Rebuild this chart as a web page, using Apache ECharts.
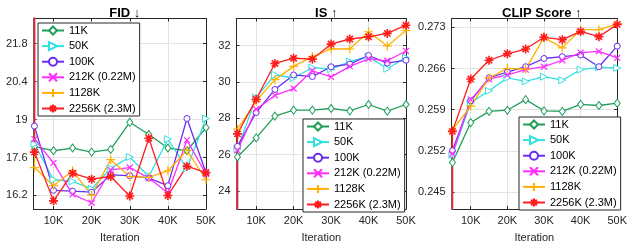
<!DOCTYPE html>
<html lang="en">
<head>
<meta charset="UTF-8">
<title>FID / IS / CLIP vs iteration</title>
<script src="https://cdn.jsdelivr.net/npm/echarts@6/dist/echarts.min.js"></script>
<style>
  html, body { margin: 0; padding: 0; background: #fff; }
</style>
</head>
<body>
<div id="main" style="width:630px;height:248px;"></div>
<script type="text/javascript">
// iterations (first entry = off-scale starting value drawn at 5K)
var iters = [5000, 5000, 10000, 15000, 20000, 25000, 30000, 35000, 40000, 45000, 50000];
var names = ['11K', '50K', '100K', '212K (0.22M)', '1128K', '2256K (2.3M)'];

// FID
var fid11 = [60, 18.0, 17.85, 17.95, 17.8, 17.9, 18.9, 18.45, 17.95, 17.85, 18.7];
var fid50 = [60, 18.1, 16.78, 16.72, 16.44, 17.2, 17.62, 16.9, 18.28, 17.2, 19.04];
var fid100 = [60, 18.76, 16.39, 16.36, 16.32, 16.96, 16.93, 16.84, 16.56, 19.04, 17.04];
var fid212 = [60, 18.28, 17.4, 16.24, 15.93, 17.14, 17.23, 16.84, 16.29, 18.24, 16.99];
var fid1128 = [60, 17.23, 16.56, 17.11, 16.21, 17.52, 16.9, 16.87, 17.11, 17.86, 16.78];
var fid2256 = [60, 17.8, 16.0, 17.02, 16.8, 16.9, 16.18, 18.31, 16.2, 17.28, 17.04];

// IS
var is11 = [15, 25.87, 26.92, 28.12, 28.45, 28.45, 28.54, 28.41, 28.76, 28.39, 28.76];
var is50 = [15, 26.3, 29.14, 30.4, 30.22, 30.8, 30.71, 31.13, 31.4, 30.73, 31.35];
var is100 = [15, 26.45, 28.32, 29.59, 30.39, 30.3, 30.84, 30.99, 31.46, 31.04, 31.2];
var is212 = [15, 26.23, 28.5, 29.26, 29.64, 30.62, 30.28, 30.86, 31.28, 31.17, 31.71];
var is1128 = [15, 27.41, 28.95, 30.13, 30.86, 31.4, 31.82, 31.82, 32.77, 31.99, 32.84];
var is2256 = [15, 27.14, 29.05, 31.02, 31.31, 31.26, 32.09, 32.37, 32.49, 32.68, 33.13];

// CLIP score
var clip11 = [0.22, 0.2500, 0.2568, 0.2587, 0.2589, 0.2607, 0.2588, 0.2587, 0.2599, 0.2597, 0.2601];
var clip50 = [0.22, 0.2513, 0.2602, 0.2622, 0.2644, 0.2638, 0.2646, 0.2640, 0.2658, 0.2662, 0.2661];
var clip100 = [0.22, 0.2520, 0.2605, 0.2644, 0.2654, 0.2663, 0.2677, 0.2680, 0.2683, 0.2663, 0.2698];
var clip212 = [0.22, 0.2515, 0.2607, 0.2642, 0.2649, 0.2658, 0.2663, 0.2674, 0.2687, 0.2689, 0.2678];
var clip1128 = [0.22, 0.2555, 0.2596, 0.2644, 0.2660, 0.2659, 0.2713, 0.2695, 0.2726, 0.2726, 0.2736];
var clip2256 = [0.22, 0.2553, 0.2642, 0.2674, 0.2685, 0.2693, 0.2713, 0.2709, 0.2723, 0.2714, 0.2735];

var xTicks = [10000, 20000, 30000, 40000, 50000];
var fidTicks = [16.2, 17.6, 19, 20.4, 21.8];
var isTicks = [24, 26, 28, 30, 32];
var clipTicks = [0.245, 0.252, 0.259, 0.266, 0.273];

var colors = ['#1e9e58', '#33e0e0', '#6a2cf0', '#ff2cff', '#ffb000', '#ff1c1c'];
var symbols = [
  'diamond',
  'triangle',
  'circle',
  'path://M0,0L10,10M10,0L0,10',
  'path://M5,0L5,10M0,5L10,5',
  'path://M5,0L5,10M0,5L10,5M1.5,1.5L8.5,8.5M8.5,1.5L1.5,8.5'
];
var symSizes = [[6, 8], 7, 6, 6, 9, 9];
var symRot = [0, -90, 0, 0, 0, 0];
var symWidth = [1, 1, 1, 1.2, 1.2, 1.6];

var font = 'Liberation Sans, Arial, sans-serif';
var ink = '#262626';

var panels = [
  { title: 'FID ↓', left: 33.5, width: 172.5, min: 15.7, max: 22.73, ticks: fidTicks,
    data: [fid11, fid50, fid100, fid212, fid1128, fid2256], legend: { left: 38, top: 23 } },
  { title: 'IS ↑', left: 236.5, width: 169.5, min: 23, max: 33.5, ticks: isTicks,
    data: [is11, is50, is100, is212, is1128, is2256], legend: { left: 303, top: 119 } },
  { title: 'CLIP Score ↑', left: 451.5, width: 170.5, min: 0.2421, max: 0.2745, ticks: clipTicks,
    data: [clip11, clip50, clip100, clip212, clip1128, clip2256], legend: { left: 519, top: 117 } }
];

var grid = [], xAxis = [], yAxis = [], series = [], title = [], legend = [];

panels.forEach(function (p, g) {
  grid.push({ left: p.left, top: 18.5, width: p.width, height: 194.5, show: false });
  title.push({
    text: p.title, left: p.left + p.width / 2, top: 2, textAlign: 'center',
    textStyle: { fontFamily: font, fontSize: 13, fontWeight: 'bold', color: '#000' }
  });
  // bottom and top x axes
  ['bottom', 'top'].forEach(function (pos) {
    xAxis.push({
      type: 'value', gridIndex: g, position: pos, min: 4750, max: 50000,
      name: pos === 'bottom' ? 'Iteration' : '', nameLocation: 'middle', nameGap: 23,
      nameTextStyle: { fontFamily: font, fontSize: 11, color: ink },
      axisLine: { show: true, lineStyle: { color: ink, width: 1 } },
      axisTick: { show: true, inside: true, length: 3, customValues: xTicks, lineStyle: { color: ink } },
      axisLabel: {
        show: pos === 'bottom', customValues: xTicks, margin: 6,
        fontFamily: font, fontSize: 11, color: ink,
        formatter: function (v) { return (v / 1000) + 'K'; }
      },
      splitLine: { show: pos === 'bottom', lineStyle: { color: '#e3e3e3', width: 1 } }
    });
  });
  ['left', 'right'].forEach(function (pos) {
    yAxis.push({
      type: 'value', gridIndex: g, position: pos, min: p.min, max: p.max,
      axisLine: { show: true, lineStyle: { color: ink, width: 1 } },
      axisTick: { show: true, inside: true, length: 3, customValues: p.ticks, lineStyle: { color: ink } },
      axisLabel: {
        show: pos === 'left', customValues: p.ticks, margin: 6,
        fontFamily: font, fontSize: 11, color: ink
      },
      splitLine: { show: pos === 'left', lineStyle: { color: '#e3e3e3', width: 1 } }
    });
  });

  p.data.forEach(function (vals, i) {
    var pts = vals.map(function (v, k) {
      if (k === 0) return { value: [iters[k], v], symbol: 'none' };
      return [iters[k], v];
    });
    series.push({
      name: names[i], type: 'line', xAxisIndex: g * 2, yAxisIndex: g * 2,
      data: pts, clip: true, animation: false,
      symbol: symbols[i], symbolSize: symSizes[i], symbolRotate: symRot[i],
      showAllSymbol: true,
      lineStyle: { color: colors[i], width: 1.3 },
      // hollow markers: white fill, coloured outline
      itemStyle: { color: '#fff', borderColor: colors[i], borderWidth: symWidth[i] },
      emphasis: { disabled: true }
    });
  });

  legend.push({
    data: names, orient: 'vertical', left: p.legend.left, top: p.legend.top,
    itemWidth: 22, itemHeight: 10, itemGap: 4.6, padding: [2, 4, 2, 3],
    backgroundColor: '#fff', borderColor: ink, borderWidth: 1, borderRadius: 0,
    selectedMode: false,
    textStyle: { fontFamily: font, fontSize: 11, color: '#000' }
  });
});

var myChart = echarts.init(document.getElementById('main'));
myChart.setOption({
  animation: false,
  title: title,
  grid: grid,
  xAxis: xAxis,
  yAxis: yAxis,
  legend: legend,
  series: series
});
</script>
</body>
</html>
